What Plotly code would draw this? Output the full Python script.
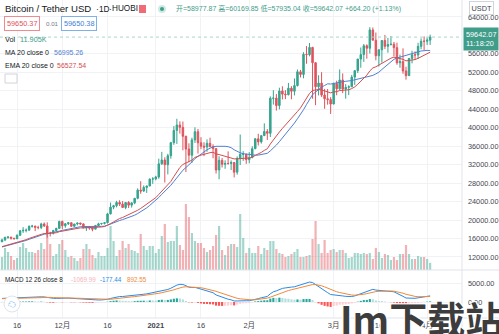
import pandas as pd
import plotly.graph_objects as go

# ---------------- data (daily, 2020-11-11 .. 2021-04-02) ----------------
start_date = "2020-11-11"
opens = [15290, 15701, 16276, 16317, 16069, 15957, 16713, 17659, 17776, 17802,
         18655, 18703, 18414, 18368, 19160, 18719, 17150, 17139, 17720, 18185,
         19696, 18765, 19204, 19421, 18651, 19148, 19359, 19166, 18324, 18541,
         18254, 18036, 18808, 19175, 19273, 19426, 21335, 22797, 23107, 23821,
         23455, 22719, 23810, 23232, 23729, 24712, 26493, 26281, 27079, 27385,
         28875, 28923, 29331, 32178, 33000, 31988, 33949, 36769, 39432, 40582,
         40088, 38150, 35404, 34051, 37371, 39144, 36742, 35994, 35828, 36631,
         35891, 35468, 30850, 32945, 32078, 32259, 32254, 32467, 30366, 33364,
         34252, 34262, 33092, 33526, 35466, 37618, 36936, 38290, 39186, 38795,
         46374, 46420, 44807, 47969, 47287, 47153, 48577, 47911, 49133, 52119,
         51552, 55906, 55841, 57408, 54087, 48891, 49676, 47073, 46276, 46106,
         45135, 49587, 48440, 50349, 48374, 48751, 48882, 50971, 52375, 54884,
         55851, 57773, 57221, 61188, 58968, 55605, 56900, 58912, 57648, 58030,
         58102, 57351, 54083, 54340, 52303, 51293, 55025, 55817, 55777, 57635,
         58746, 58740, 58977.87]
highs = [15965, 16340, 16480, 16317, 16120, 16880, 17859, 18476, 18179, 18815,
         18965, 18750, 18766, 19418, 19484, 19500, 17457, 17880, 18346, 19863,
         19888, 19342, 19566, 19511, 19160, 19420, 19420, 19294, 18639, 18557,
         18292, 18948, 19411, 19349, 19570, 21560, 23800, 23285, 24171, 24295,
         24102, 23837, 24100, 23789, 24789, 26867, 28422, 27500, 27410, 28996,
         29300, 29600, 33300, 34778, 33600, 34360, 36939, 40365, 41950, 41380,
         41350, 38264, 36628, 37850, 40100, 39747, 37950, 36852, 37469, 37850,
         36415, 35600, 33826, 33456, 32944, 34880, 32921, 32557, 33783, 38531,
         34933, 34342, 34717, 35984, 37662, 38708, 38310, 40955, 39700, 46794,
         48142, 47310, 48678, 48985, 48150, 49707, 49010, 50689, 52618, 52530,
         56368, 57700, 58352, 57535, 54183, 51374, 52041, 48424, 48394, 46638,
         49790, 50200, 52640, 51773, 49448, 49200, 51450, 52402, 54900, 57387,
         58150, 58081, 61788, 61724, 60633, 56938, 58974, 60100, 59468, 59880,
         58589, 58430, 55830, 57200, 53230, 55073, 56700, 56559, 58400, 59368,
         59800, 59490, 60169.85]
lows = [15271, 15440, 15952, 15755, 15798, 15870, 16538, 17214, 17335, 17740,
        18355, 17610, 18000, 18018, 18500, 16188, 16438, 16865, 17517, 18185,
        18001, 18330, 18925, 18570, 18500, 18857, 18902, 18200, 17650, 17911,
        17572, 18020, 18711, 19000, 19050, 19278, 21230, 22350, 22750, 23060,
        22777, 22353, 22600, 22703, 23433, 24500, 25700, 26101, 25880, 27320,
        27850, 28624, 28946, 31962, 28130, 29900, 33288, 36300, 36500, 38720,
        35111, 30420, 32531, 32380, 36701, 34408, 35357, 33850, 34800, 35844,
        33400, 30071, 28850, 31390, 31106, 32000, 30837, 29241, 29842, 31915,
        32825, 32171, 32297, 33418, 35362, 36161, 36570, 38215, 37351, 37988,
        45020, 43727, 43994, 46125, 46202, 47014, 46174, 47003, 48947, 50901,
        50710, 53863, 55477, 46288, 44892, 47003, 46674, 44106, 45000, 43000,
        45115, 47047, 48100, 47500, 46300, 47070, 48882, 49274, 51845, 53005,
        54272, 54962, 56083, 58966, 54600, 53271, 54123, 57023, 56270, 57820,
        55450, 53650, 53000, 51700, 50427, 51262, 53950, 54691, 54902, 57000,
        56769, 57935, 57935.04]
closes = [15701, 16276, 16317, 16069, 15957, 16713, 17659, 17776, 17802, 18655,
          18703, 18414, 18368, 19160, 18719, 17150, 17139, 17720, 18185, 19696,
          18765, 19204, 19421, 18651, 19148, 19359, 19166, 18324, 18541, 18254,
          18036, 18808, 19175, 19273, 19426, 21335, 22797, 23107, 23821, 23455,
          22719, 23810, 23232, 23729, 24712, 26493, 26281, 27079, 27385, 28875,
          28923, 29331, 32178, 33000, 31988, 33949, 36769, 39432, 40582, 40088,
          38150, 35404, 34051, 37371, 39144, 36742, 35994, 35828, 36631, 35891,
          35468, 30850, 32945, 32078, 32259, 32254, 32467, 30366, 33364, 34252,
          34262, 33092, 33526, 35466, 37618, 36936, 38290, 39186, 38795, 46374,
          46420, 44807, 47969, 47287, 47153, 48577, 47911, 49133, 52119, 51552,
          55906, 55841, 57408, 54087, 48891, 49676, 47073, 46276, 46106, 45135,
          49587, 48440, 50349, 48374, 48751, 48882, 50971, 52375, 54884, 55851,
          57773, 57221, 61188, 58968, 55605, 56900, 58912, 57648, 58030, 58102,
          57351, 54083, 54340, 52303, 51293, 55025, 55817, 55777, 57635, 58746,
          58740, 58977.87, 59642.07]
volumes_k = [21.5, 36.3, 29.7, 23.1, 16.5, 19.8, 38.0, 44.6, 36.3, 29.7,
             29.7, 28.1, 33.0, 44.6, 34.7, 59.4, 42.9, 23.1, 26.4, 42.9,
             49.5, 33.0, 21.5, 23.1, 19.8, 14.9, 19.8, 34.7, 42.9, 34.7,
             24.8, 19.8, 29.7, 23.1, 23.1, 36.3, 72.6, 47.9, 23.1, 33.0,
             47.9, 36.3, 42.9, 33.0, 31.4, 28.1, 59.4, 39.6, 33.0, 39.6,
             39.6, 28.1, 34.7, 56.1, 75.9, 46.2, 47.9, 47.9, 72.6, 41.3,
             33.0, 108.9, 87.5, 61.1, 47.9, 44.6, 44.6, 36.3, 29.7, 33.0,
             39.6, 57.8, 72.6, 33.0, 24.8, 39.6, 42.9, 42.9, 38.0, 92.4,
             52.8, 28.1, 36.3, 28.1, 28.1, 39.6, 26.4, 36.3, 33.0, 47.9,
             47.9, 34.7, 28.1, 26.4, 21.5, 23.1, 26.4, 29.7, 34.7, 21.5,
             21.5, 23.1, 24.8, 51.2, 80.9, 42.9, 28.1, 49.5, 28.1, 33.0,
             34.7, 29.7, 33.0, 33.0, 28.1, 19.8, 21.5, 28.1, 28.1, 26.4,
             28.1, 26.4, 28.1, 18.2, 36.3, 29.7, 19.8, 26.4, 24.8, 16.5,
             21.5, 16.5, 26.4, 26.4, 41.3, 26.4, 18.2, 18.2, 23.1, 21.5,
             21.5, 18.2, 11.905]
# closes of the 40 sessions before the visible window (indicator warm-up)
warmup_closes = [10570, 10550, 10670, 10790, 10600, 10670, 10920, 11060, 11300, 11380,
                 11540, 11430, 11430, 11500, 11320, 11370, 11500, 11750, 11910, 12820,
                 12990, 12930, 13130, 13040, 13070, 13650, 13280, 13460, 13560, 13800,
                 13760, 13550, 14030, 14150, 15590, 15590, 14840, 15480, 15330, 15300]

tick_dates = ["2020-11-16", "2020-12-01", "2020-12-16", "2021-01-01", "2021-01-16",
              "2021-02-01", "2021-03-01", "2021-03-16", "2021-04-01"]
tick_labels = ["16", "12月", "16", "<b>2021</b>", "16", "2月", "3月", "16", "4月"]
price_ticks = [12000, 16000, 20000, 24000, 28000, 32000, 36000, 40000, 44000, 48000,
               52000, 56000, 64000]
macd_ticks = [0, 5000]

# ---------------- indicators ----------------
n = len(closes)
dates = pd.date_range(start_date, periods=n, freq="D")
full = pd.Series(warmup_closes + closes, dtype=float)
w = len(warmup_closes)
ma20 = full.rolling(20).mean().iloc[w:].values
ema20 = full.ewm(span=20, adjust=False).mean().iloc[w:].values
macd_full = full.ewm(span=12, adjust=False).mean() - full.ewm(span=26, adjust=False).mean()
signal_full = macd_full.ewm(span=8, adjust=False).mean()
hist_full = macd_full - signal_full
macd = macd_full.iloc[w:].values
signal = signal_full.iloc[w:].values
hist = hist_full.iloc[w:].values
hist_prev = hist_full.iloc[w - 1:-1].values

# ---------------- styling ----------------
W, H = 499, 334
PW, PH = 462, 318          # plot area (px)
MAIN_BOTTOM = 270          # px where price pane ends
dom_split = (PH - MAIN_BOTTOM) / PH
FONT = "Liberation Sans, Noto Sans CJK SC, sans-serif"
UP = "#35a48e"
DOWN = "#e0535c"
GRID = "#f0f2f6"
TXT = "#131722"
AX = "#434651"

vol_colors = ["rgba(53,164,142,0.45)" if c >= o else "rgba(224,83,92,0.45)"
              for o, c in zip(opens, closes)]
hist_colors = []
for h, hp in zip(hist, hist_prev):
    if h >= 0:
        hist_colors.append("#26a69a" if h >= hp else "#b2dfdb")
    else:
        hist_colors.append("#ffcdd2" if h >= hp else "#ff5252")

day_ms = 86400000
t0 = pd.Timestamp(start_date)
x_range = [t0 - pd.Timedelta(days=2 / 3.015), t0 + pd.Timedelta(days=460 / 3.015)]

fig = go.Figure()
fig.add_trace(go.Bar(x=dates, y=volumes_k, marker=dict(color=vol_colors, line=dict(width=0)),
                     width=0.72 * day_ms, xaxis="x", yaxis="y", hoverinfo="skip"))
fig.add_trace(go.Candlestick(x=dates, open=opens, high=highs, low=lows, close=closes,
                             increasing=dict(line=dict(color=UP, width=1), fillcolor=UP),
                             decreasing=dict(line=dict(color=DOWN, width=1), fillcolor=DOWN),
                             whiskerwidth=0, xaxis="x", yaxis="y3", hoverinfo="skip"))
fig.add_trace(go.Scatter(x=dates, y=ma20, mode="lines", line=dict(color="#4f7fd0", width=1),
                         xaxis="x", yaxis="y3", hoverinfo="skip"))
fig.add_trace(go.Scatter(x=dates, y=ema20, mode="lines", line=dict(color="#d14f4f", width=1),
                         xaxis="x", yaxis="y3", hoverinfo="skip"))
fig.add_trace(go.Bar(x=dates, y=hist, marker=dict(color=hist_colors, line=dict(width=0)),
                     width=0.7 * day_ms, xaxis="x2", yaxis="y2", hoverinfo="skip"))
fig.add_trace(go.Scatter(x=dates, y=macd, mode="lines", line=dict(color="#2a8ae8", width=1),
                         xaxis="x2", yaxis="y2", hoverinfo="skip"))
fig.add_trace(go.Scatter(x=dates, y=signal, mode="lines", line=dict(color="#f08a3c", width=1),
                         xaxis="x2", yaxis="y2", hoverinfo="skip"))


def px_x(x):
    return x / PW


def px_y(y):
    return (PH - y) / PH


def ann(text, x, y, size=7.3, color=TXT, xanchor="left", **kw):
    return dict(text=text, x=px_x(x), y=px_y(y), xref="paper", yref="paper",
                xanchor=xanchor, yanchor="middle", showarrow=False,
                font=dict(size=size, color=color, family=FONT), **kw)


annotations = [
    ann("Bitcoin / Tether USD", 3, 9, size=9.6),
    ann("·", 94, 9, size=8.5),
    ann("1D", 97, 9, size=8.3),
    ann("·", 107, 9, size=8.5),
    ann("HUOBI", 110, 9, size=8.2),
    ann("开=58977.87 高=60169.85 低=57935.04 收=59642.07 +664.20 (+1.13%)", 174, 9,
        size=7.0, color="#3f9d8a"),
    ann("59650.37", 4, 24, size=7.3, color="#e0535c", bordercolor="#f08a8f",
        borderwidth=1, borderpad=2, bgcolor="white"),
    ann("0.01", 44, 24, size=6.2, color="#787b86"),
    ann("59650.38", 61, 24, size=7.3, color="#3d7fd6", bordercolor="#7fb0e8",
        borderwidth=1, borderpad=2, bgcolor="white"),
    ann("Vol", 3, 40, size=7.3),
    ann("11.905K", 18, 40, size=7.3, color="#3f9d8a"),
    ann("MA 20 close 0", 3, 53, size=7.0),
    ann("56995.26", 52, 53, size=7.0, color="#4f7fd0"),
    ann("EMA 20 close 0", 3, 66, size=7.0),
    ann("56527.54", 55, 66, size=7.0, color="#d14f4f"),
    ann("MACD 12 26 close 8", 3, 279, size=6.3),
    ann("-1069.99", 69, 279, size=6.3, color="#f5b3ba"),
    ann("-177.44", 98, 279, size=6.3, color="#2a8ae8"),
    ann("892.55", 125, 279, size=6.3, color="#f08a3c"),
    ann("USDT", 481, 8, size=7.3, color=AX, xanchor="center", bordercolor="#d1d4dc",
        borderwidth=1, borderpad=1.5, bgcolor="white"),
    ann("59642.07<br>11:18:20", 463, 39, size=7.3, color="white", bgcolor="#3f9d8a",
        borderpad=2, align="left"),
    ann("☁", 12, 304, size=8, color="#2a8ae8", xanchor="center"),
    dict(text="<b>Im下载站</b>", x=px_x(421), y=px_y(317), xref="paper", yref="paper",
         xanchor="center", yanchor="middle", showarrow=False,
         font=dict(size=38, color="#3d3d3d", family="Noto Sans CJK SC, sans-serif",
                   shadow="1px 1px 0 #fff, -1px -1px 0 #fff, 1px -1px 0 #fff, -1px 1px 0 #fff")),
]

shapes = [
    # pane separator, bottom axis line, price-scale separator
    dict(type="line", xref="paper", yref="paper", x0=0, x1=W / PW, y0=dom_split, y1=dom_split,
         line=dict(color="#e0e3eb", width=1)),
    dict(type="line", xref="paper", yref="paper", x0=0, x1=W / PW, y0=0, y1=0,
         line=dict(color="#e0e3eb", width=1)),
    dict(type="line", xref="paper", yref="paper", x0=1, x1=1, y0=-(H - PH) / PH, y1=1,
         line=dict(color="#e0e3eb", width=1)),
    # last price line
    dict(type="line", xref="paper", yref="y3", x0=0, x1=1, y0=closes[-1], y1=closes[-1],
         line=dict(color="#a9d6cc", width=1, dash="dot")),
    # flag icon + status dot
    dict(type="rect", xref="paper", yref="paper", x0=px_x(139), x1=px_x(146),
         y0=px_y(13), y1=px_y(5), fillcolor="#f06a78", line=dict(width=0)),
    dict(type="circle", xref="paper", yref="paper", x0=px_x(158), x1=px_x(166),
         y0=px_y(13), y1=px_y(5), fillcolor="#cfeae4", line=dict(width=0)),
    dict(type="circle", xref="paper", yref="paper", x0=px_x(160), x1=px_x(164),
         y0=px_y(11), y1=px_y(7), fillcolor="#3f9d8a", line=dict(width=0)),
    # collapse button
    dict(type="rect", xref="paper", yref="paper", x0=px_x(5), x1=px_x(17),
         y0=px_y(83), y1=px_y(74), fillcolor="white", line=dict(color="#d1d4dc", width=1)),
    # logo circle
    dict(type="circle", xref="paper", yref="paper", x0=px_x(4), x1=px_x(20),
         y0=px_y(312), y1=px_y(296), fillcolor="white", line=dict(color="#e0e3eb", width=1)),
]

fig.update_layout(
    width=W, height=H,
    margin=dict(l=0, r=W - PW, t=0, b=H - PH),
    paper_bgcolor="white", plot_bgcolor="white",
    showlegend=False, barmode="overlay", hovermode=False,
    font=dict(family=FONT, size=7.3, color=AX),
    xaxis=dict(domain=[0, 1], anchor="y", range=x_range, type="date",
               tickvals=tick_dates, ticktext=tick_labels, showticklabels=False,
               showgrid=True, gridcolor=GRID, gridwidth=1, zeroline=False,
               showline=False, ticks="", rangeslider=dict(visible=False)),
    xaxis2=dict(domain=[0, 1], anchor="y2", matches="x", range=x_range, type="date",
                tickvals=tick_dates, ticktext=tick_labels, showticklabels=True,
                tickfont=dict(size=7.5, color=AX, family=FONT),
                showgrid=True, gridcolor=GRID, gridwidth=1, zeroline=False,
                showline=False, ticks="", ticklabelstandoff=1),
    yaxis=dict(domain=[dom_split, 1], anchor="x", range=[0, 445.5], visible=False,
               showgrid=False, zeroline=False),
    yaxis3=dict(overlaying="y", anchor="x", side="right", range=[9180, 67680],
                tickvals=price_ticks, ticktext=[f"{v:.2f}" for v in price_ticks],
                tickfont=dict(size=7.3, color=AX, family=FONT),
                showgrid=True, gridcolor=GRID, gridwidth=1, zeroline=False,
                showline=False, ticks="", ticklabelstandoff=5),
    yaxis2=dict(domain=[0, dom_split], anchor="x2", side="right", range=[-4211, 8421],
                tickvals=macd_ticks, ticktext=[f"{v:.2f}" for v in macd_ticks],
                tickfont=dict(size=7.3, color=AX, family=FONT),
                showgrid=True, gridcolor=GRID, gridwidth=1, zeroline=False,
                showline=False, ticks="", ticklabelstandoff=5),
    annotations=annotations,
    shapes=shapes,
)

fig.write_html("out.html", config={"displayModeBar": False, "staticPlot": True})
